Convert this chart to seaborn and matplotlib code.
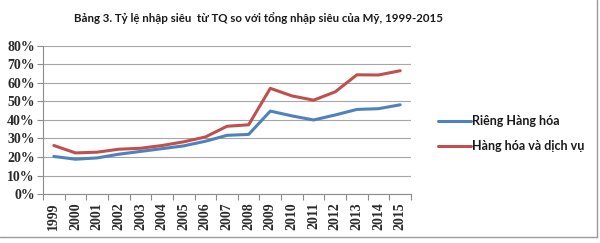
import matplotlib
matplotlib.use("Agg")
import matplotlib.pyplot as plt
import seaborn as sns
import pandas as pd
from matplotlib.lines import Line2D
from matplotlib.ticker import FixedLocator, FuncFormatter

years = [str(y) for y in range(1999, 2016)]
hang_hoa = [20.3, 18.8, 19.5, 21.5, 23.0, 24.5, 26.0, 28.5, 31.7, 32.2, 44.8, 42.2, 40.0, 42.7, 45.7, 46.1, 48.2]
hang_hoa_dv = [26.2, 22.2, 22.6, 24.2, 24.7, 26.2, 28.2, 30.8, 36.6, 37.4, 57.1, 53.0, 50.7, 55.2, 64.4, 64.3, 66.6]
series_names = ["Riêng Hàng hóa", "Hàng hóa và dịch vụ"]
colors = ["#4F81BD", "#C0504D"]
title = "Bảng 3. Tỷ lệ nhập siêu  từ TQ so với tổng nhập siêu của Mỹ, 1999-2015"

df = pd.DataFrame({"year": years * 2,
                   "value": hang_hoa + hang_hoa_dv,
                   "series": [series_names[0]] * len(years) + [series_names[1]] * len(years)})

sns.set_style("white")
plt.rcParams["font.family"] = ["Liberation Serif", "DejaVu Serif"]

fig = plt.figure(figsize=(6.0, 2.43), dpi=100)
ax = fig.add_axes([0.0717, 0.2016, 0.6133, 0.6094])

sns.lineplot(data=df, x="year", y="value", hue="series", palette=colors,
             linewidth=2.2, ax=ax, legend=False, sort=False)

ax.set_xlim(-0.5, len(years) - 0.5)
ax.set_ylim(0, 80)
ax.yaxis.set_major_locator(FixedLocator(list(range(0, 81, 10))))
ax.yaxis.set_major_formatter(FuncFormatter(lambda v, p: f"{int(v)}%"))
ax.grid(axis="y", color="#A6A6A6", linewidth=0.8)
ax.grid(axis="x", visible=False)
ax.set_axisbelow(True)
ax.set_xlabel("")
ax.set_ylabel("")

for s in ["top", "right"]:
    ax.spines[s].set_visible(False)
for s in ["left", "bottom"]:
    ax.spines[s].set_color("#8C8C8C")
    ax.spines[s].set_linewidth(0.8)

ax.set_xticks(range(len(years)))
ax.set_xticklabels(years, rotation=90, fontsize=10, fontweight="bold", color="#2a2a2a")
ax.xaxis.set_minor_locator(FixedLocator([i - 0.5 for i in range(len(years) + 1)]))
ax.tick_params(axis="x", which="major", length=0, pad=6)
ax.tick_params(axis="x", which="minor", length=4, color="#8C8C8C", width=0.8, bottom=True)
ax.tick_params(axis="y", which="major", length=4, color="#8C8C8C", width=0.8, left=True,
               labelsize=10, labelcolor="#2a2a2a", pad=2)
for lab in ax.get_yticklabels():
    lab.set_fontweight("bold")

fig.text(0.43, 0.925, title, ha="center", va="center", fontsize=8.3,
         fontweight="bold", family=["Lato", "DejaVu Sans"], color="#1a1a1a")

handles = [Line2D([0], [0], color=c, linewidth=2.2) for c in colors]
leg = fig.legend(handles, series_names, loc="center left", bbox_to_anchor=(0.712, 0.45),
                 frameon=False, handlelength=2.6, handletextpad=0.1, labelspacing=1.0,
                 prop={"family": ["Lato", "DejaVu Sans"], "size": 9, "weight": "bold"})
for t in leg.get_texts():
    t.set_color("#1a1a1a")

fig.add_artist(Line2D([0.995, 0.995], [0.025, 1.0], transform=fig.transFigure,
                      color="#9A9A9A", linewidth=1.0))
fig.add_artist(Line2D([0.0, 0.995], [0.025, 0.025], transform=fig.transFigure,
                      color="#9A9A9A", linewidth=1.0))

fig.savefig("out.png", dpi=100)
